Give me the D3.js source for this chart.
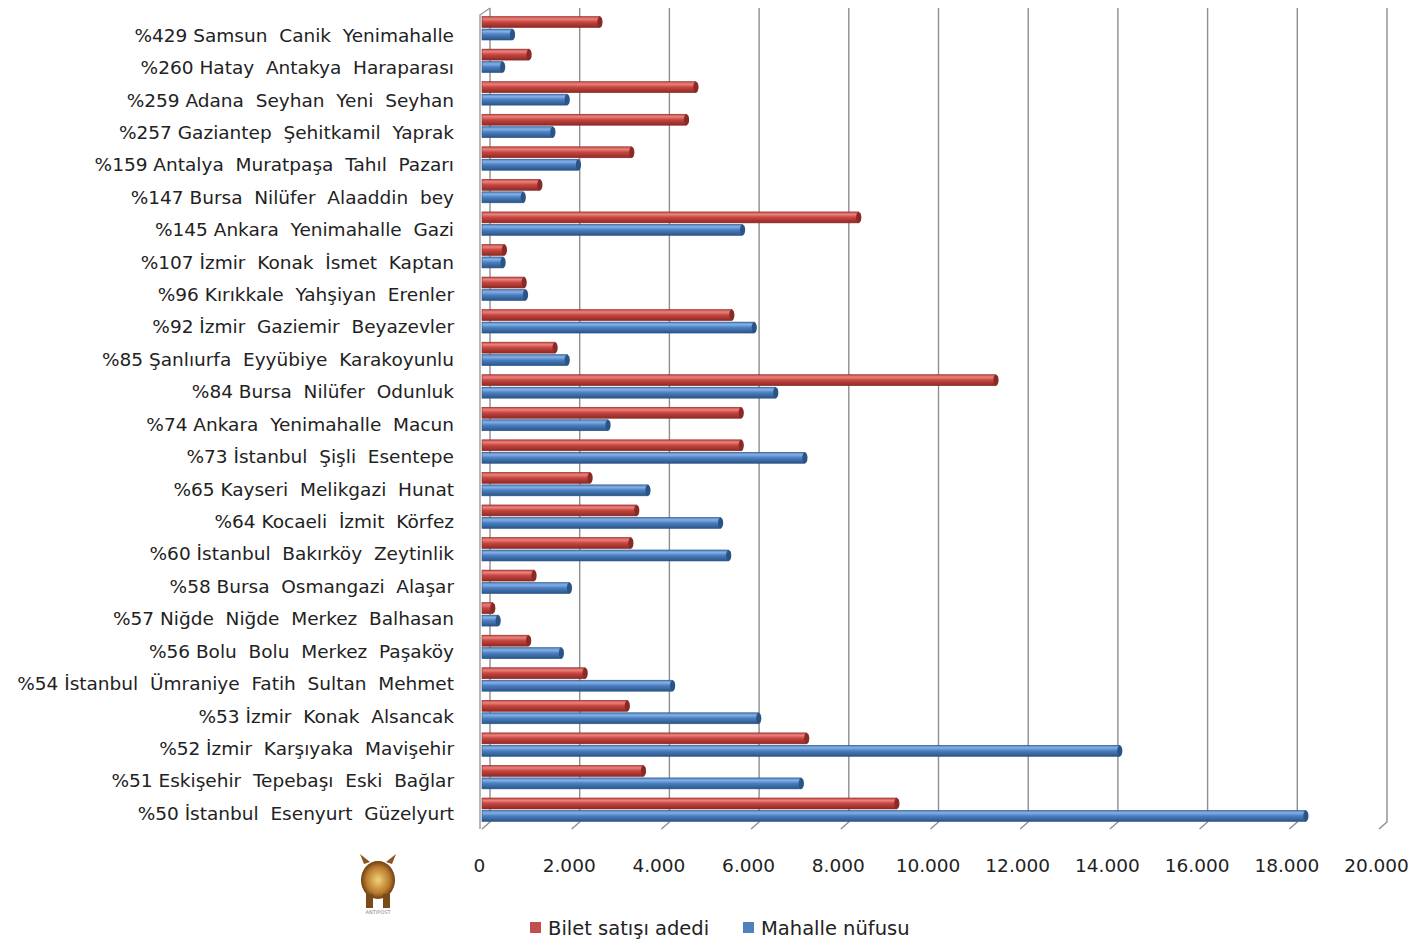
<!DOCTYPE html>
<html>
<head>
<meta charset="utf-8">
<script src="https://cdn.jsdelivr.net/npm/d3@7"></script>
<style>
  body { margin: 0; background: #fff; }
  svg { display: block; font-family: "DejaVu Sans", Verdana, sans-serif; }
</style>
</head>
<body>
<svg width="1410" height="942"></svg>
<script>
const categories = [
  '%429 Samsun  Canik  Yenimahalle',
  '%260 Hatay  Antakya  Haraparası',
  '%259 Adana  Seyhan  Yeni  Seyhan',
  '%257 Gaziantep  Şehitkamil  Yaprak',
  '%159 Antalya  Muratpaşa  Tahıl  Pazarı',
  '%147 Bursa  Nilüfer  Alaaddin  bey',
  '%145 Ankara  Yenimahalle  Gazi',
  '%107 İzmir  Konak  İsmet  Kaptan',
  '%96 Kırıkkale  Yahşiyan  Erenler',
  '%92 İzmir  Gaziemir  Beyazevler',
  '%85 Şanlıurfa  Eyyübiye  Karakoyunlu',
  '%84 Bursa  Nilüfer  Odunluk',
  '%74 Ankara  Yenimahalle  Macun',
  '%73 İstanbul  Şişli  Esentepe',
  '%65 Kayseri  Melikgazi  Hunat',
  '%64 Kocaeli  İzmit  Körfez',
  '%60 İstanbul  Bakırköy  Zeytinlik',
  '%58 Bursa  Osmangazi  Alaşar',
  '%57 Niğde  Niğde  Merkez  Balhasan',
  '%56 Bolu  Bolu  Merkez  Paşaköy',
  '%54 İstanbul  Ümraniye  Fatih  Sultan  Mehmet',
  '%53 İzmir  Konak  Alsancak',
  '%52 İzmir  Karşıyaka  Mavişehir',
  '%51 Eskişehir  Tepebaşı  Eski  Bağlar',
  '%50 İstanbul  Esenyurt  Güzelyurt'
];

// Bilet satışı adedi
const biletSatisi = [2630, 1050, 4770, 4560, 3340, 1290, 8400, 500, 940, 5570, 1630, 11460, 5780, 5780,
  2410, 3450, 3320, 1160, 240, 1040, 2300, 3240, 7240, 3600, 9250];
// Mahalle nüfusu
const mahalleNufusu = [680, 460, 1900, 1580, 2150, 920, 5810, 470, 970, 6070, 1900, 6550, 2810, 7200,
  3700, 5320, 5500, 1950, 360, 1770, 4250, 6170, 14220, 7120, 18370];

const seriesNames = ['Bilet satışı adedi', 'Mahalle nüfusu'];
const xTicks = [0, 2000, 4000, 6000, 8000, 10000, 12000, 14000, 16000, 18000, 20000];

const colors = {
  'Bilet satışı adedi': { light: '#e8837f', mid: '#c8453f', dark: '#8a2a26', key: '#c0504d' },
  'Mahalle nüfusu': { light: '#86b0e4', mid: '#4a7fc1', dark: '#2b5486', key: '#4f81bd' }
};

const svg = d3.select('svg');
const depthX = 8, depthY = -7;
const plotTop = 8, plotBottom = 829;

const x = d3.scaleLinear().domain([0, 20000]).range([482, 1379]);
const y0 = d3.scaleBand().domain(categories).range([12, 826]).paddingInner(0.28).paddingOuter(0.14);
const y1 = d3.scaleBand().domain(seriesNames).range([0, y0.bandwidth()]).paddingInner(0.12);
// labels sit a little lower than the bars (3D projection)
const yLabel = d3.scaleBand().domain(categories).range([19, 829.5]);

const rows = categories.map((c, i) => ({ cat: c, values: [
  { name: seriesNames[0], v: biletSatisi[i] },
  { name: seriesNames[1], v: mahalleNufusu[i] }
]}));

// gradients for the cylinder look
const defs = svg.append('defs');
seriesNames.forEach((s, i) => {
  const g = defs.append('linearGradient').attr('id', 'grad' + i)
      .attr('x1', 0).attr('y1', 0).attr('x2', 0).attr('y2', 1);
  g.append('stop').attr('offset', '0%').attr('stop-color', colors[s].mid);
  g.append('stop').attr('offset', '22%').attr('stop-color', colors[s].light);
  g.append('stop').attr('offset', '50%').attr('stop-color', colors[s].mid);
  g.append('stop').attr('offset', '100%').attr('stop-color', colors[s].dark);
});

// gridlines (back wall + floor tick)
const grid = svg.append('g');
grid.selectAll('path').data(xTicks).enter()
    .append('path')
    .attr('d', d => `M${x(d) + depthX},${plotTop} L${x(d) + depthX},${plotBottom + depthY} L${x(d)},${plotBottom}`)
    .attr('fill', 'none')
    .attr('stroke', '#8e8e8e')
    .attr('stroke-width', 1.4);

// left wall edge
svg.append('path')
    .attr('d', `M${x(0) + depthX},${plotTop} L${x(0) - 2},${plotTop + 7} L${x(0) - 2},${plotBottom}`)
    .attr('fill', 'none')
    .attr('stroke', '#9a9a9a')
    .attr('stroke-width', 1.4);

// bars
const groups = svg.append('g').selectAll('g').data(rows).enter()
    .append('g')
    .attr('transform', d => `translate(0,${y0(d.cat)})`);

const bars = groups.selectAll('g').data(d => d.values).enter().append('g');

bars.append('rect')
    .attr('x', x(0))
    .attr('y', d => y1(d.name))
    .attr('width', d => x(d.v) - x(0))
    .attr('height', y1.bandwidth())
    .attr('fill', d => 'url(#grad' + seriesNames.indexOf(d.name) + ')')
    .attr('stroke', d => colors[d.name].dark)
    .attr('stroke-width', 0.6);

bars.append('ellipse')
    .attr('cx', d => x(d.v))
    .attr('cy', d => y1(d.name) + y1.bandwidth() / 2)
    .attr('rx', 2.6)
    .attr('ry', y1.bandwidth() / 2)
    .attr('fill', d => colors[d.name].dark);

// category labels
svg.append('g').selectAll('text').data(categories).enter()
    .append('text')
    .attr('x', 454)
    .attr('y', d => yLabel(d) + yLabel.bandwidth() / 2)
    .attr('dy', '0.35em')
    .attr('text-anchor', 'end')
    .attr('font-size', 18.5)
    .attr('fill', '#222')
    .attr('xml:space', 'preserve')
    .style('white-space', 'pre')
    .text(d => d);

// x axis labels
const trLocale = d3.formatLocale({ decimal: ',', thousands: '.', grouping: [3], currency: ['', ''] });
const xAxis = d3.axisBottom(x).tickValues(xTicks).tickFormat(trLocale.format(',d')).tickSize(0).tickPadding(0);
const axisG = svg.append('g').attr('transform', 'translate(-3,859)').call(xAxis);
axisG.select('.domain').remove();
axisG.selectAll('text')
    .attr('font-family', '"DejaVu Sans", Verdana, sans-serif')
    .attr('font-size', 18.5)
    .attr('fill', '#222');

// legend
const legend = svg.append('g').attr('transform', 'translate(530,922)');
const legendX = [0, 213];
seriesNames.forEach((s, i) => {
  const lg = legend.append('g').attr('transform', `translate(${legendX[i]},0)`);
  lg.append('rect').attr('width', 11).attr('height', 11).attr('fill', colors[s].key);
  lg.append('text').attr('x', 18).attr('y', 6).attr('dy', '0.35em')
      .attr('font-size', 19.5).attr('fill', '#222').text(s);
});

// small rhino logo
const logo = svg.append('g').attr('transform', 'translate(378,880)');
const lgGrad = defs.append('radialGradient').attr('id', 'rhino');
lgGrad.append('stop').attr('offset', '0%').attr('stop-color', '#f1d27a');
lgGrad.append('stop').attr('offset', '70%').attr('stop-color', '#b9792c');
lgGrad.append('stop').attr('offset', '100%').attr('stop-color', '#6b3f12');
logo.append('ellipse').attr('cx', 0).attr('cy', 0).attr('rx', 17).attr('ry', 19).attr('fill', 'url(#rhino)');
logo.append('path').attr('d', 'M-14,-16 L-18,-26 L-8,-18 Z M14,-16 L18,-26 L8,-18 Z').attr('fill', '#8a5520');
logo.append('rect').attr('x', -12).attr('y', 14).attr('width', 7).attr('height', 14).attr('fill', '#7a4a18');
logo.append('rect').attr('x', 5).attr('y', 14).attr('width', 7).attr('height', 14).attr('fill', '#7a4a18');
logo.append('text').attr('x', 0).attr('y', 34).attr('text-anchor', 'middle')
    .attr('font-size', 5).attr('fill', '#888').text('ANTIPOST');
</script>
</body>
</html>
